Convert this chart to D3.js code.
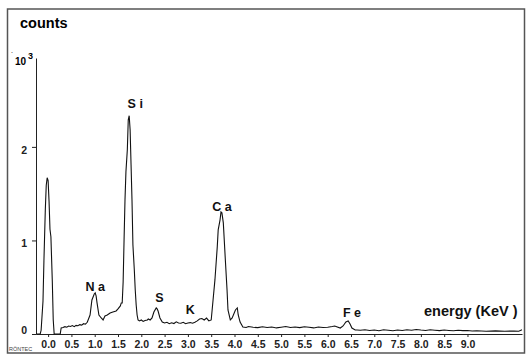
<!DOCTYPE html>
<head>
  <meta charset="utf-8">
  <script src="https://d3js.org/d3.v7.min.js"></script>
  <style>
    body { margin: 0; background: #fff; }
    text { font-family: "Liberation Sans", Arial, sans-serif; }
  </style>
</head>
<body>
  <script>
    // spectrum: energy (keV) and counts
    var energy = [-0.26, -0.17, -0.15, -0.11, -0.09, -0.06, -0.04, -0.02, 0.00, 0.02, 0.04, 0.06, 0.09, 0.11, 0.13,
      0.26, 0.28, 0.32, 0.36, 0.40, 0.44, 0.48, 0.52, 0.56, 0.60, 0.64, 0.68, 0.72, 0.76, 0.80, 0.84,
      0.90, 0.94, 0.99, 1.01, 1.03, 1.05, 1.09, 1.14, 1.18, 1.22, 1.27, 1.33, 1.39, 1.46, 1.50, 1.55, 1.57,
      1.59, 1.61, 1.63, 1.65, 1.67, 1.70, 1.72, 1.74, 1.76, 1.78, 1.80, 1.82, 1.85, 1.87, 1.89, 1.91, 1.93,
      1.96, 2.00, 2.04, 2.08, 2.13, 2.15, 2.19, 2.23, 2.27, 2.32, 2.34, 2.36, 2.40, 2.45,
      2.50, 2.55, 2.60, 2.65, 2.70, 2.75, 2.80, 2.85, 2.90, 2.95, 3.00, 3.05, 3.10, 3.15, 3.20, 3.25, 3.30, 3.35, 3.40, 3.45, 3.50,
      3.52, 3.54, 3.58, 3.63, 3.65, 3.69, 3.71, 3.73, 3.76, 3.80, 3.84, 3.86, 3.91, 3.95, 4.02, 4.06, 4.08, 4.12, 4.18,
      4.25, 4.30, 4.40, 4.50, 4.60, 4.70, 4.80, 4.90, 5.00, 5.10, 5.20, 5.30, 5.40, 5.50, 5.60, 5.70, 5.80, 5.90, 6.00, 6.10, 6.15,
      6.27, 6.33, 6.39, 6.44, 6.48, 6.52, 6.59, 6.63,
      6.70, 6.80, 6.90, 7.00, 7.10, 7.20, 7.30, 7.40, 7.50, 7.60, 7.70, 7.80, 7.90, 8.00, 8.10, 8.20, 8.30, 8.40, 8.50,
      8.60, 8.70, 8.80, 8.90, 9.00, 9.10, 9.20, 9.40, 9.60, 9.80, 10.00, 10.10, 10.17];
    var counts = [0, 0, 40, 350, 780, 1330, 1590, 1670, 1640, 1420, 1120, 1040, 560, 150, 0,
      0, 65, 70, 78, 72, 85, 80, 90, 78, 92, 88, 100, 95, 110, 105, 125,
      203, 364, 428, 439, 407, 332, 203, 171, 150, 193, 203, 225, 235, 246, 268, 300, 332,
      332, 556, 1006, 1434, 1733, 1969, 2290, 2333, 2183, 1808, 1434, 952, 685, 471, 310, 203, 150,
      140, 150, 135, 145, 150, 160, 150, 171, 235, 278, 268, 246, 171, 128,
      118, 125, 110, 120, 112, 130, 118, 115, 125, 110, 118, 122, 115, 125, 140, 160, 165, 150, 170, 140, 150,
      257, 364, 578, 931, 1113, 1220, 1305, 1295, 1188, 824, 471, 257, 150, 171, 257, 278, 203, 128, 75,
      70, 80, 72, 68, 78, 70, 75, 65, 72, 80, 70, 75, 68, 78, 72, 65, 75, 70, 72, 80, 85,
      64, 86, 128, 139, 107, 64, 43, 43,
      40, 45, 38, 42, 35, 45, 40, 35, 42, 38, 45, 40, 48, 42, 38, 45, 40, 36, 42,
      38, 35, 40, 36, 38, 32, 35, 30, 33, 30, 32, 30, 45];

    var xTicks = d3.range(0, 9.01, 0.5);
    var yTicks = [0, 1000, 2000];

    var peakNames = ["N a", "S i", "S", "K", "C a", "F e"];
    var peakLabelE = [1.01, 1.87, 2.39, 3.05, 3.73, 6.52];
    var peakLabelCounts = [460, 2420, 340, 210, 1320, 180];

    var data = energy.map((e, i) => ({ e: e, c: counts[i] }));

    var svg = d3.select('body').append('svg')
      .attr('width', 531)
      .attr('height', 359);

    // frame
    svg.append('rect')
      .attr('x', 7.5).attr('y', 9)
      .attr('width', 517).attr('height', 344)
      .attr('fill', 'none')
      .attr('stroke', '#555')
      .attr('stroke-width', 1.5);

    var x = d3.scaleLinear().domain([-0.26, 10.17]).range([36, 522]);
    var y = d3.scaleLinear().domain([0, 2950]).range([334, 58]);

    // x axis
    var gx = svg.append('g')
      .attr('transform', 'translate(0,334)')
      .call(d3.axisBottom(x).tickValues(xTicks).tickFormat(d3.format('.1f'))
        .tickSize(3).tickSizeOuter(0).tickPadding(4));
    gx.select('.domain').attr('stroke', '#222');
    gx.selectAll('.tick line').attr('stroke', '#222');
    gx.selectAll('.tick text')
      .attr('fill', '#222')
      .style('font-size', '10.5px')
      .style('font-weight', 'bold');

    // y axis
    var gy = svg.append('g')
      .attr('transform', 'translate(36,0)')
      .call(d3.axisLeft(y).tickValues(yTicks).tickFormat(d => d / 1000)
        .tickSize(4).tickSizeOuter(0).tickPadding(5));
    gy.select('.domain').attr('stroke', '#222');
    gy.selectAll('.tick line').attr('stroke', '#222');
    gy.selectAll('.tick text')
      .attr('fill', '#222')
      .attr('dy', d => d === 0 ? '-0.05em' : '0.62em')
      .style('font-size', '10.5px')
      .style('font-weight', 'bold');

    // spectrum
    svg.append('path')
      .datum(data)
      .attr('fill', 'none')
      .attr('stroke', '#111')
      .attr('stroke-width', 1.1)
      .attr('d', d3.line().x(d => x(d.e)).y(d => y(d.c)));

    // peak labels
    svg.append('g').selectAll('text')
      .data(peakNames).enter().append('text')
      .attr('x', (d, i) => x(peakLabelE[i]))
      .attr('y', (d, i) => y(peakLabelCounts[i]))
      .attr('text-anchor', 'middle')
      .style('font-size', '12.5px')
      .style('font-weight', 'bold')
      .attr('fill', '#111')
      .text(d => d);

    // titles
    svg.append('text')
      .attr('x', 20).attr('y', 28)
      .style('font-size', '14.5px').style('font-weight', 'bold')
      .text('counts');
    svg.append('text')
      .attr('x', 11).attr('y', 53)
      .style('font-size', '7px')
      .text('.');
    svg.append('text')
      .attr('x', 15).attr('y', 65)
      .style('font-size', '10px').style('font-weight', 'bold')
      .text('10');
    svg.append('text')
      .attr('x', 28).attr('y', 59)
      .style('font-size', '9px').style('font-weight', 'bold')
      .text('3');
    svg.append('text')
      .attr('x', 424).attr('y', 316)
      .style('font-size', '14.5px').style('font-weight', 'bold')
      .attr('fill', '#111')
      .text('energy (KeV )');
    svg.append('text')
      .attr('x', 9).attr('y', 351)
      .style('font-size', '5.5px')
      .attr('fill', '#444')
      .text('RÖNTEC');
  </script>
</body>
